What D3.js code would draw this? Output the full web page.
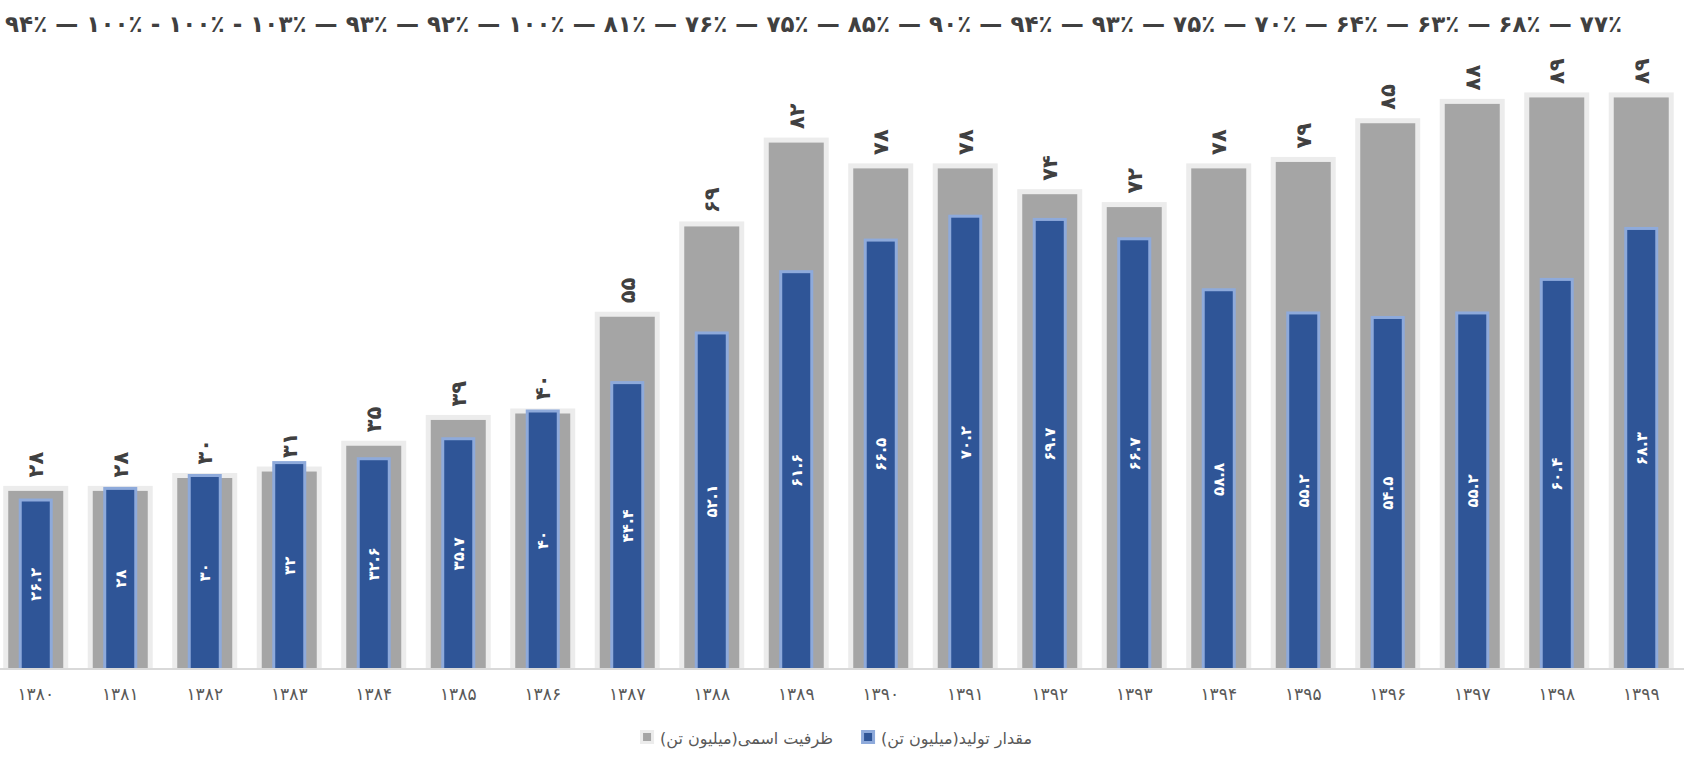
<!DOCTYPE html>
<html>
<head>
<meta charset="utf-8">
<script src="https://cdn.jsdelivr.net/npm/d3@7"></script>
<style>
  html, body { margin: 0; padding: 0; background: #fff; }
  svg { display: block; font-family: "DejaVu Sans", sans-serif; }
</style>
</head>
<body>
<div id="chart"></div>
<script>
// years of the Persian calendar
var years = [1380, 1381, 1382, 1383, 1384, 1385, 1386, 1387, 1388, 1389,
             1390, 1391, 1392, 1393, 1394, 1395, 1396, 1397, 1398, 1399];
// nominal capacity (million t)
var capacity = [28, 28, 30, 31, 35, 39, 40, 55, 69, 82, 78, 78, 74, 72, 78, 79, 85, 88, 89, 89];
// production (million t)
var production = [26.2, 28, 30, 32, 32.6, 35.7, 40, 44.4, 52.1, 61.6,
                  66.5, 70.2, 69.7, 66.7, 58.8, 55.2, 54.5, 55.2, 60.4, 68.3];
// utilisation line at the top, as printed
var utilization = [94, 100, 100, 103, 93, 92, 100, 81, 76, 75, 85, 90, 94, 93, 75, 70, 64, 63, 68, 77];
var separators = ["—", "-", "-", "—", "—", "—", "—", "—", "—", "—",
                  "—", "—", "—", "—", "—", "—", "—", "—", "—"];
var legendNames = ["ظرفیت اسمی(میلیون تن)", "مقدار تولید(میلیون تن)"];

var width = 1684, height = 758;
var baseline = 669;

var faDigits = "۰۱۲۳۴۵۶۷۸۹";
function fa(v) {
  return String(v).replace(/[0-9]/g, function(c) { return faDigits[+c]; });
}

var svg = d3.select("#chart").append("svg")
  .attr("width", width)
  .attr("height", height);

var x = d3.scaleBand()
  .domain(years)
  .range([-6.5, 1683.5])
  .padding(0);

var y = d3.scaleLinear()
  .domain([0, 100])
  .range([baseline, 24]);

var rows = years.map(function(yr, i) {
  return { year: yr, cap: capacity[i], prod: production[i] };
});

svg.append("clipPath").attr("id", "plotclip")
  .append("rect")
  .attr("x", 0).attr("y", 0)
  .attr("width", width).attr("height", baseline);

var plot = svg.append("g").attr("clip-path", "url(#plotclip)");

var capW = x.bandwidth() * 0.71;
var prodW = x.bandwidth() * 0.367;

// capacity bars
plot.selectAll(".cap")
  .data(rows)
  .enter()
  .append("rect")
  .attr("class", "cap")
  .attr("x", function(d) { return x(d.year) + (x.bandwidth() - capW) / 2; })
  .attr("y", function(d) { return y(d.cap); })
  .attr("width", capW)
  .attr("height", function(d) { return baseline - y(d.cap) + 4; })
  .attr("fill", "#a5a5a5")
  .attr("stroke", "#ececec")
  .attr("stroke-width", 5);

// production bars
plot.selectAll(".prod")
  .data(rows)
  .enter()
  .append("rect")
  .attr("class", "prod")
  .attr("x", function(d) { return x(d.year) + (x.bandwidth() - prodW) / 2; })
  .attr("y", function(d) { return y(d.prod); })
  .attr("width", prodW)
  .attr("height", function(d) { return baseline - y(d.prod) + 4; })
  .attr("fill", "#2f5597")
  .attr("stroke", "#8eaadb")
  .attr("stroke-width", 3);

// axis line
svg.append("line")
  .attr("x1", 0).attr("x2", width)
  .attr("y1", baseline).attr("y2", baseline)
  .attr("stroke", "#d9d9d9")
  .attr("stroke-width", 2);

// capacity labels, rotated, above bars
svg.selectAll(".capLabel")
  .data(rows)
  .enter()
  .append("text")
  .attr("class", "capLabel")
  .attr("transform", function(d) {
    return "translate(" + (x(d.year) + x.bandwidth() / 2) + "," + (y(d.cap) - 11) + ") rotate(-90)";
  })
  .attr("dy", "0.36em")
  .attr("text-anchor", "start")
  .attr("font-size", 21)
  .attr("font-weight", "bold")
  .attr("fill", "#404040")
  .text(function(d) { return fa(d.cap); });

// production labels, rotated, inside bars
svg.selectAll(".prodLabel")
  .data(rows)
  .enter()
  .append("text")
  .attr("class", "prodLabel")
  .attr("transform", function(d) {
    return "translate(" + (x(d.year) + x.bandwidth() / 2) + "," + ((y(d.prod) + baseline) / 2) + ") rotate(-90)";
  })
  .attr("dy", "0.36em")
  .attr("text-anchor", "middle")
  .attr("font-size", 15)
  .attr("font-weight", "bold")
  .attr("fill", "#ffffff")
  .text(function(d) { return fa(d.prod); });

// year ticks
svg.selectAll(".yearLabel")
  .data(years)
  .enter()
  .append("text")
  .attr("class", "yearLabel")
  .attr("x", function(d) { return x(d) + x.bandwidth() / 2; })
  .attr("y", 700)
  .attr("text-anchor", "middle")
  .attr("font-size", 17)
  .attr("fill", "#595959")
  .text(function(d) { return fa(d); });

// utilisation row at the top
var topLine = utilization.map(function(p, i) {
  return fa(p) + "٪" + (i < separators.length ? " " + separators[i] + " " : "");
}).join("");

svg.append("text")
  .attr("x", 5)
  .attr("y", 32)
  .attr("font-size", 23)
  .attr("font-weight", "bold")
  .attr("fill", "#404040")
  .attr("textLength", 1617)
  .attr("lengthAdjust", "spacing")
  .text(topLine);

// legend: [swatch][text]   [swatch][text], centred under the plot
var legendItems = [
  { name: legendNames[0], fill: "#a5a5a5", stroke: "#ececec" },
  { name: legendNames[1], fill: "#2f5597", stroke: "#8eaadb" }
];
var legend = svg.append("g");
var sw = 14, swGap = 6, itemGap = 28;

legendItems.forEach(function(item) {
  item.text = legend.append("text")
    .attr("y", 744)
    .attr("text-anchor", "middle")
    .attr("direction", "rtl")
    .attr("font-size", 16)
    .attr("fill", "#595959")
    .text(item.name);
  item.w = item.text.node().getComputedTextLength();
});

var total = d3.sum(legendItems, function(d) { return sw + swGap + d.w; }) + itemGap;
var cursor = 836 - total / 2;
legendItems.forEach(function(item) {
  legend.append("rect")
    .attr("x", cursor + 1.5)
    .attr("y", 731.5)
    .attr("width", sw - 3)
    .attr("height", sw - 3)
    .attr("fill", item.fill)
    .attr("stroke", item.stroke)
    .attr("stroke-width", 3);
  cursor += sw + swGap;
  item.text.attr("x", cursor + item.w / 2);
  cursor += item.w + itemGap;
});
</script>
</body>
</html>
